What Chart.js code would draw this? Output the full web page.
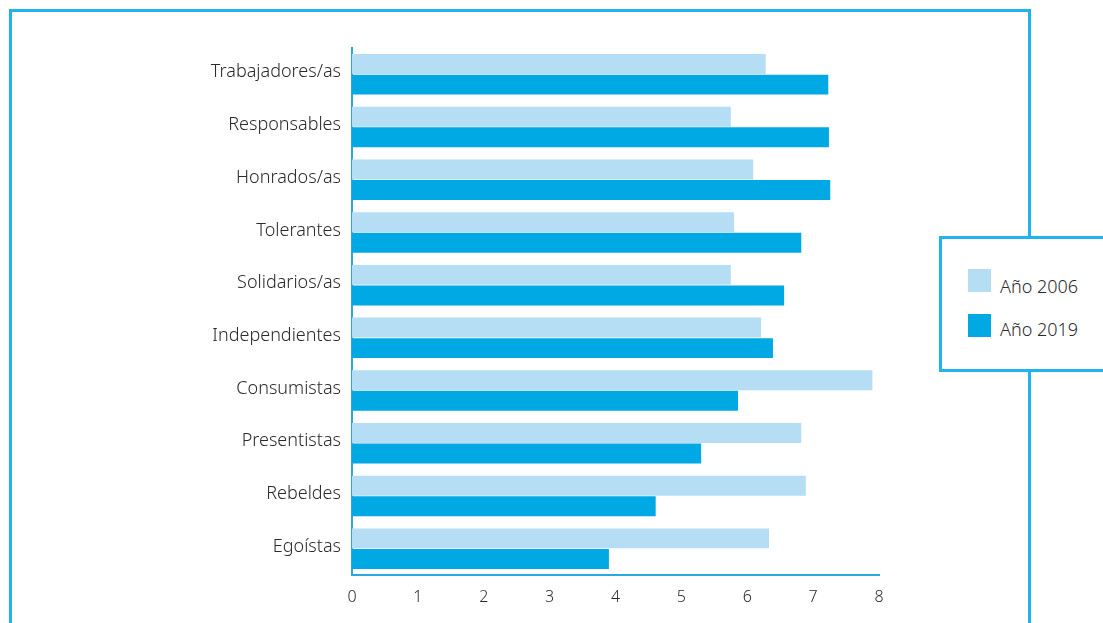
<!DOCTYPE html>
<html lang="es">
<head>
<meta charset="utf-8" />
<script src="https://cdn.jsdelivr.net/npm/chart.js@4.4.1/dist/chart.umd.min.js"></script>
<style>
  html, body { margin: 0; padding: 0; background: #fff; overflow: hidden; }
  #wrap { position: relative; width: 1103px; height: 623px; }
  #frame {
    position: absolute; left: 9px; top: 9px; width: 1016px; height: 700px;
    border: 3px solid #1fb4ee; box-sizing: content-box;
  }
  #chart { position: absolute; left: 0; top: 0; }
  #legend {
    position: absolute; left: 939px; top: 236px; width: 200px; height: 130px;
    border: 3px solid #1fb4ee; background: #fff;
    font-family: "Noto Sans", sans-serif; font-weight: 300; font-size: 18px; color: #2a2a2a;
  }
  .swatch { position: absolute; left: 26px; width: 23px; height: 23px; }
  .label { position: absolute; left: 58px; line-height: 20px; }
</style>
</head>
<body>
<div id="wrap">
  <div id="frame"></div>
  <canvas id="chart" width="1103" height="623"></canvas>
  <div id="legend">
    <span class="swatch" style="top: 30px; background:#b5def5"></span><span class="label" style="top: 37px;">Año 2006</span>
    <span class="swatch" style="top: 75px; background:#00a8e4"></span><span class="label" style="top: 80px;">Año 2019</span>
  </div>
</div>
<script>
const categories = [
  "Trabajadores/as", "Responsables", "Honrados/as", "Tolerantes", "Solidarios/as",
  "Independientes", "Consumistas", "Presentistas", "Rebeldes", "Egoístas"
];
const values2006 = [6.28, 5.75, 6.09, 5.80, 5.75, 6.21, 7.90, 6.82, 6.89, 6.33];
const values2019 = [7.23, 7.24, 7.26, 6.82, 6.56, 6.39, 5.86, 5.30, 4.61, 3.90];
const xTicks = [0, 1, 2, 3, 4, 5, 6, 7, 8];

const axisColor = "#2aa9df";
const textColor = "#2a2a2a";
const fontFamily = "'Noto Sans', sans-serif";

new Chart(document.getElementById("chart"), {
  type: "bar",
  data: {
    labels: categories,
    datasets: [
      {
        label: "Año 2006",
        data: values2006,
        backgroundColor: "#b5def5",
        categoryPercentage: 0.78,
        barPercentage: 0.97,
      },
      {
        label: "Año 2019",
        data: values2019,
        backgroundColor: "#00a8e4",
        categoryPercentage: 0.78,
        barPercentage: 0.97,
      },
    ],
  },
  options: {
    indexAxis: "y",
    responsive: false,
    animation: false,
    devicePixelRatio: 1,
    layout: { padding: { left: 0, right: 224, top: 48, bottom: 0 } },
    plugins: { legend: { display: false }, tooltip: { enabled: false } },
    scales: {
      x: {
        min: 0,
        max: 8,
        afterBuildTicks: (scale) => { scale.ticks = xTicks.map((v) => ({ value: v })); },
        afterFit: (scale) => { scale.height = 48; },
        grid: { display: false, drawTicks: false },
        border: { display: true, color: axisColor, width: 2 },
        ticks: { color: textColor, padding: 13, font: { family: fontFamily, size: 16, weight: 300 } },
      },
      y: {
        afterFit: (scale) => { scale.width = 352; },
        grid: { display: false, drawTicks: false },
        border: { display: true, color: axisColor, width: 2 },
        ticks: {
          color: textColor, padding: 11, font: { family: fontFamily, size: 18, weight: 300 },
          labelOffset: -2,
        },
      },
    },
  },
});
</script>
</body>
</html>
